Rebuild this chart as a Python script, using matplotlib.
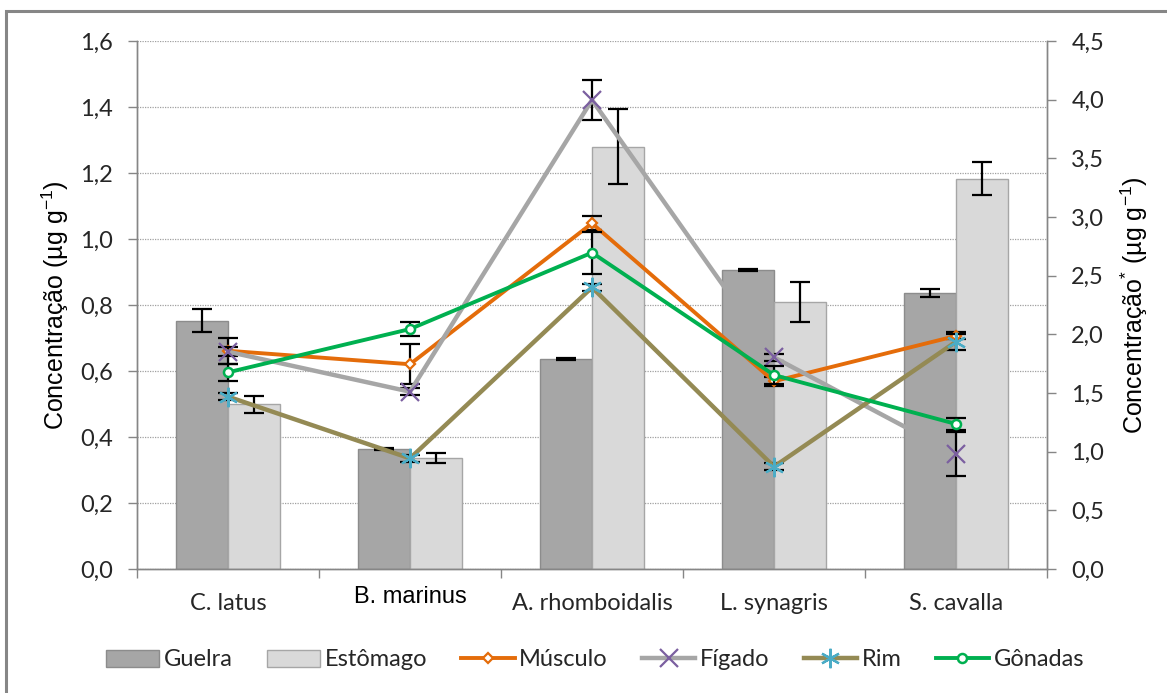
import numpy as np
import matplotlib
matplotlib.use("Agg")
import matplotlib.pyplot as plt
from matplotlib import transforms
from matplotlib.patches import Rectangle
from matplotlib.ticker import FuncFormatter, FixedLocator

# ---- data -------------------------------------------------------------
species = ["C. latus", "B. marinus", "A. rhomboidalis", "L. synagris", "S. cavalla"]

# tissues plotted as bars (left axis)
guelra = [0.752, 0.364, 0.636, 0.906, 0.837]
guelra_err = [0.035, 0.004, 0.004, 0.004, 0.013]
estomago = [0.499, 0.336, 1.280, 0.810, 1.182]
estomago_err = [0.026, 0.016, 0.114, 0.060, 0.050]

# tissues plotted as lines (right axis, *)
musculo = [1.86, 1.745, 2.946, 1.60, 1.986]
musculo_err = [0.11, 0.17, 0.06, 0.04, 0.03]
figado = [1.852, 1.511, 3.997, 1.804, 0.98]
figado_err = [0.04, 0.03, 0.17, 0.03, 0.19]
rim = [1.469, 0.943, 2.40, 0.872, 1.937]
rim_err = [0.03, 0.03, 0.03, 0.03, 0.07]
gonadas = [1.676, 2.045, 2.696, 1.653, 1.236]
gonadas_err = [0.07, 0.06, 0.18, 0.08, 0.055]

left_ticks = [0.0, 0.2, 0.4, 0.6, 0.8, 1.0, 1.2, 1.4, 1.6]
right_ticks = [0.0, 0.5, 1.0, 1.5, 2.0, 2.5, 3.0, 3.5, 4.0, 4.5]

# ---- style ------------------------------------------------------------
plt.rcParams["font.family"] = ["Lato", "DejaVu Sans"]
plt.rcParams["mathtext.fontset"] = "custom"
plt.rcParams["mathtext.rm"] = "Liberation Sans"
plt.rcParams["mathtext.default"] = "rm"

AXIS_GRAY = "#868686"
TEXT = "#262626"
W, H = 1167, 693

fig = plt.figure(figsize=(W / 100, H / 100), dpi=100)
ax = fig.add_axes([137 / W, 124 / H, 910 / W, 528 / H])
ax2 = ax.twinx()

x = np.arange(len(species))
bw = 0.286

# bars
b1 = ax.bar(x - bw / 2, guelra, bw, color="#a6a6a6", edgecolor="#8c8c8c",
            linewidth=1.0, zorder=2, label="Guelra")
b2 = ax.bar(x + bw / 2, estomago, bw, color="#d9d9d9", edgecolor="#a6a6a6",
            linewidth=1.0, zorder=2, label="Estômago")
ekw = dict(fmt="none", ecolor="black", elinewidth=1.6, capsize=7, capthick=1.6, zorder=3)
ax.errorbar(x - bw / 2, guelra, yerr=guelra_err, **ekw)
ax.errorbar(x + bw / 2, estomago, yerr=estomago_err, **ekw)

# lines
series = [
    ("Músculo", musculo, musculo_err, dict(color="#e46c0a", lw=2.8, marker="D", ms=5.5,
                                           mfc="white", mec="#e46c0a", mew=1.6)),
    ("Fígado", figado, figado_err, dict(color="#a6a6a6", lw=3.2, marker="x", ms=13,
                                        mec="#7b5fa0", mew=1.6)),
    ("Rim", rim, rim_err, dict(color="#948a54", lw=3.2, marker=(6, 2, 0), ms=14,
                               mec="#4bacc6", mew=1.6)),
    ("Gônadas", gonadas, gonadas_err, dict(color="#00b050", lw=2.8, marker="o", ms=6.5,
                                           mfc="white", mec="#00b050", mew=1.8)),
]
line_handles = []
for i, (name, vals, err, kw) in enumerate(series):
    ax2.errorbar(x, vals, yerr=err, fmt="none", ecolor="black", elinewidth=1.6,
                 capsize=7, capthick=1.6, zorder=3 + 2 * i)
    ln, = ax2.plot(x, vals, label=name, zorder=4 + 2 * i, **kw)
    line_handles.append(ln)

# ---- axes -------------------------------------------------------------
comma = FuncFormatter(lambda v, _: f"{v:.1f}".replace(".", ","))

ax.set_xlim(-0.5, len(species) - 0.5)
ax.set_ylim(0, 1.6)
ax.set_yticks(left_ticks)
ax.yaxis.set_major_formatter(comma)
ax2.set_ylim(0, 4.5)
ax2.set_yticks(right_ticks)
ax2.yaxis.set_major_formatter(comma)

ax.xaxis.set_major_locator(FixedLocator(np.arange(-0.5, len(species), 1.0)))
ax.set_xticklabels([])
ax.set_xticks(x, minor=True)
cat_labels = list(species)
cat_labels[1] = ""
ax.set_xticklabels(cat_labels, minor=True)
ax.tick_params(axis="x", which="minor", length=0, pad=17, labelsize=17, labelcolor=TEXT)
ax.tick_params(axis="x", which="major", length=6.5, width=1.0, color=AXIS_GRAY, direction="out")
ax.tick_params(axis="y", length=6.5, width=1.0, color=AXIS_GRAY, pad=11, labelsize=17,
               labelcolor=TEXT)
ax2.tick_params(axis="y", length=6.5, width=1.0, color=AXIS_GRAY, pad=11, labelsize=17,
                labelcolor=TEXT)

tr = transforms.blended_transform_factory(ax.transData, ax.transAxes)
ax.text(x[1], -28 / 528, species[1], transform=tr, ha="center", va="center",
        fontsize=17, family=["Liberation Sans"], color="black")

ax.grid(axis="y", color="#a0a0a0", linestyle=(0, (1, 1)), linewidth=0.9, zorder=0)
ax.set_axisbelow(True)

for a in (ax, ax2):
    a.spines["top"].set_visible(False)
    for s in ("left", "right", "bottom"):
        a.spines[s].set_color(AXIS_GRAY)
        a.spines[s].set_linewidth(1.0)
ax2.patch.set_visible(False)

fig.text(55 / W, 1 - 305 / H, "Concentração (µg g$^{-1}$)", rotation=90, ha="center",
         va="center", fontsize=18, family=["Liberation Sans"], color="black")
fig.text(1134 / W, 1 - 305 / H, "Concentração$^{*}$ (µg g$^{-1}$)", rotation=90, ha="center",
         va="center", fontsize=18, family=["Liberation Sans"], color="black")

# legend
handles = [b1, b2] + line_handles
labels = [h.get_label() for h in handles]
fig.legend(handles, labels, loc="center", bbox_to_anchor=(595 / W, 1 - 660 / H), ncol=6,
           frameon=False, fontsize=17, handlelength=2.25, handletextpad=0.2,
           columnspacing=1.45, numpoints=1, labelcolor=TEXT)

# chart frame
fig.add_artist(Rectangle((6 / W, -0.1), 1.2, 1.1 - 11 / H, transform=fig.transFigure,
                         fill=False, edgecolor="#868686", linewidth=2.2, clip_on=False))

fig.savefig("out.png", dpi=100)
